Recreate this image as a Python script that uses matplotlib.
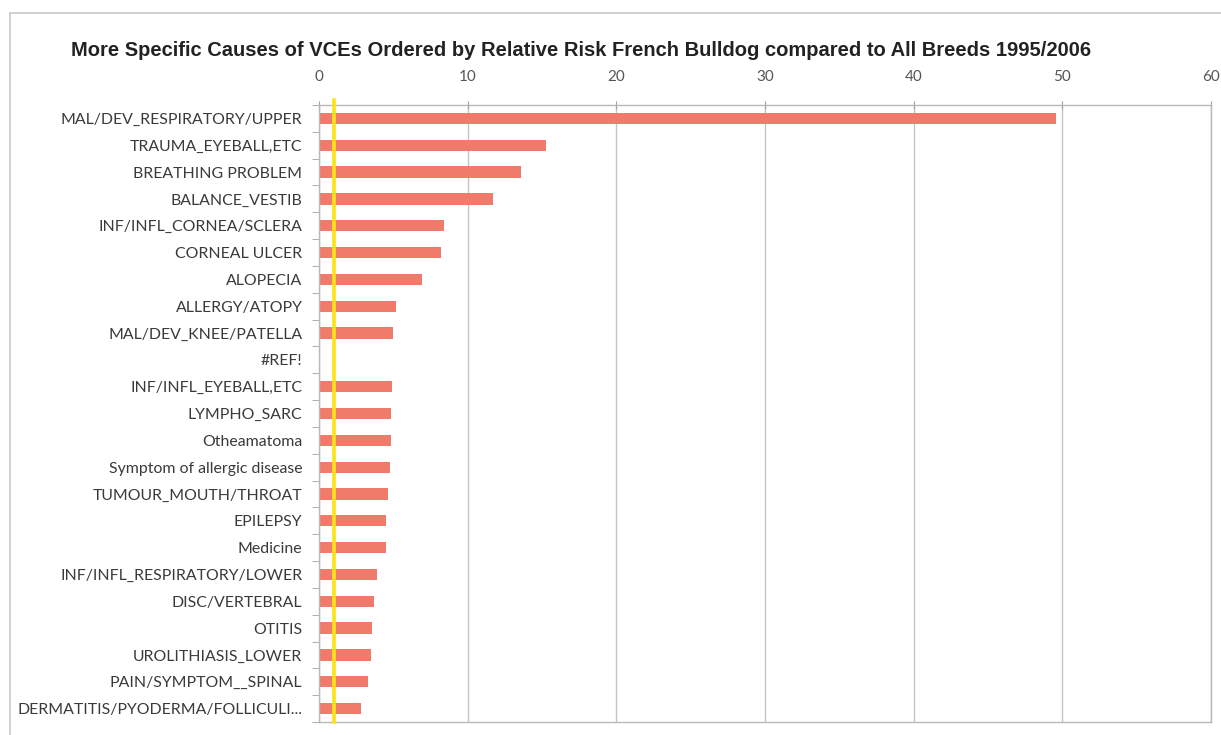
import matplotlib
matplotlib.use("Agg")
import matplotlib.pyplot as plt
from matplotlib.patches import Rectangle
import numpy as np

causes = ["MAL/DEV_RESPIRATORY/UPPER", "TRAUMA_EYEBALL,ETC", "BREATHING PROBLEM",
          "BALANCE_VESTIB", "INF/INFL_CORNEA/SCLERA", "CORNEAL ULCER", "ALOPECIA",
          "ALLERGY/ATOPY", "MAL/DEV_KNEE/PATELLA", "#REF!", "INF/INFL_EYEBALL,ETC",
          "LYMPHO_SARC", "Otheamatoma", "Symptom of allergic disease",
          "TUMOUR_MOUTH/THROAT", "EPILEPSY", "Medicine", "INF/INFL_RESPIRATORY/LOWER",
          "DISC/VERTEBRAL", "OTITIS", "UROLITHIASIS_LOWER", "PAIN/SYMPTOM__SPINAL",
          "DERMATITIS/PYODERMA/FOLLICULI..."]
relative_risk = [49.6, 15.3, 13.6, 11.7, 8.4, 8.2, 6.9, 5.2, 5.0, 0.0, 4.9, 4.85,
                 4.85, 4.75, 4.67, 4.53, 4.49, 3.93, 3.70, 3.54, 3.48, 3.30, 2.85]
reference_level = 1
x_ticks = [0, 10, 20, 30, 40, 50, 60]

W, H = 1221, 735
fig = plt.figure(figsize=(W / 100, H / 100), dpi=100)
fig.patch.set_facecolor("white")

# outer chart frame
fig.patches.append(Rectangle((10 / W, -0.01), 1.0, 1 - 13 / H + 0.01, transform=fig.transFigure,
                             fill=False, edgecolor="#c8c8c8", linewidth=1.2))

ax = fig.add_axes([319 / W, 1 - 722 / H, (1211 - 319) / W, (722 - 105) / H])

y = np.arange(len(causes))
ax.barh(y, relative_risk, height=0.42, color="#f07b6b", zorder=2)
ax.axvline(reference_level, ymax=1.008, clip_on=False, color="#ffe31a", linewidth=2.6, zorder=3)

ax.set_xlim(0, 60)
ax.set_ylim(len(causes) - 0.5, -0.5)
ax.set_xticks(x_ticks)
ax.xaxis.tick_top()
ax.tick_params(axis="x", which="major", direction="inout", length=6, color="#a0a0a0",
               labelsize=11, labelcolor="#555555", pad=12)
for lab in ax.get_xticklabels():
    lab.set_fontfamily("Lato")
ax.grid(axis="x", color="#c4c4c4", linewidth=1.0, zorder=0)

ax.set_yticks(y)
ax.set_yticklabels(causes, fontfamily="Lato", fontsize=11.4, color="#3a3a3a")
ax.set_yticks(np.arange(len(causes) + 1) - 0.5, minor=True)
ax.tick_params(axis="y", which="major", length=0, pad=12)
ax.tick_params(axis="y", which="minor", length=5, color="#a0a0a0")

for s in ax.spines.values():
    s.set_color("#b8b8b8")
    s.set_linewidth(1.0)

fig.text(581 / W, 1 - 50 / H,
         "More Specific Causes of VCEs Ordered by Relative Risk French Bulldog compared to All Breeds 1995/2006",
         ha="center", va="center", fontsize=14.5, fontweight="bold",
         fontfamily="Liberation Sans", color="#222222")

fig.savefig("out.png", dpi=100)
